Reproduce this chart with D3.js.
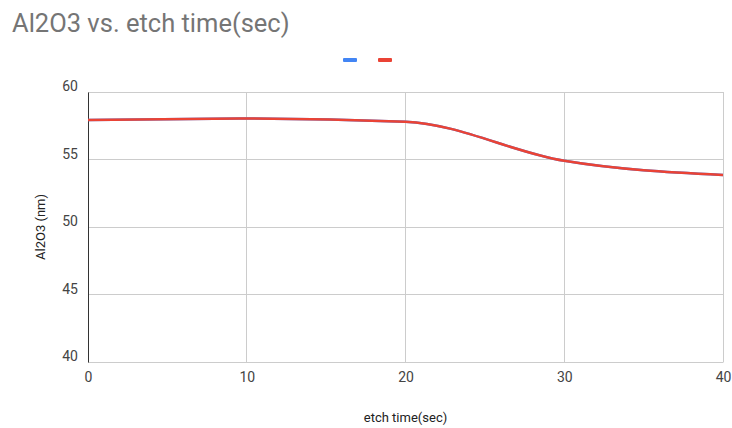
<!DOCTYPE html>
<html><head><meta charset="utf-8">
<script src="https://cdn.jsdelivr.net/npm/d3@7"></script>
<style>body{margin:0;background:#fff;}svg{display:block;font-family:Roboto,Arial,sans-serif;}</style>
</head><body><svg id="c" width="732" height="428"></svg>
<script>
const etchTime = [0, 10, 20, 30, 40];
const seriesBlue = [57.93, 58.04, 57.8, 54.9, 53.85];
const seriesRed = [57.93, 58.04, 57.8, 54.9, 53.85];
const xTicks = [0, 10, 20, 30, 40];
const yTicks = [40, 45, 50, 55, 60];
const title = "Al2O3 vs. etch time(sec)";
const xTitle = "etch time(sec)";
const yTitle = "Al2O3 (nm)";
const colors = ["#4285f4", "#ea4335"];

const svg = d3.select("#c");
const m = {l: 88, r: 9, t: 92, b: 66};
const W = 732, H = 428;
const x = d3.scaleLinear().domain([0, 40]).range([m.l, W - m.r]);
const y = d3.scaleLinear().domain([40, 60]).range([H - m.b, m.t]);

svg.append("text").attr("x", 12).attr("y", 32).attr("font-size", 25.5)
  .attr("font-family", "Roboto,Arial,sans-serif").attr("fill", "#757575").text(title);

// grid
const g = svg.append("g");
g.selectAll(".gy").data(yTicks).join("line")
  .attr("x1", x(0)).attr("x2", x(40)).attr("y1", d => y(d)).attr("y2", d => y(d))
  .attr("stroke", "#cccccc").attr("stroke-width", 1).attr("shape-rendering", "crispEdges");
g.selectAll(".gx").data(xTicks).join("line")
  .attr("y1", y(40)).attr("y2", y(60)).attr("x1", d => x(d)).attr("x2", d => x(d))
  .attr("stroke", "#cccccc").attr("stroke-width", 1).attr("shape-rendering", "crispEdges");

// axes
const xAxis = d3.axisBottom(x).tickValues(xTicks).tickSize(0).tickPadding(10);
const gx = svg.append("g").attr("transform", `translate(0,${y(40)})`).call(xAxis);
gx.select(".domain").attr("stroke", "#cccccc");
gx.selectAll("text").attr("font-size", 14).attr("fill", "#444").attr("font-family", "Roboto,Arial,sans-serif");

const yAxis = d3.axisLeft(y).tickValues(yTicks).tickSize(0).tickPadding(10);
const gy = svg.append("g").attr("transform", `translate(${x(0)},0)`).call(yAxis);
gy.select(".domain").attr("stroke", "#333333");
gy.selectAll("text").attr("font-size", 14).attr("fill", "#444").attr("font-family", "Roboto,Arial,sans-serif").attr("dy", "-0.1em");

// axis titles
svg.append("text").attr("x", (x(0) + x(40)) / 2).attr("y", 422).attr("text-anchor", "middle")
  .attr("font-size", 13).attr("fill", "#222").text(xTitle);
svg.append("text").attr("transform", `translate(45,${(y(40) + y(60)) / 2}) rotate(-90)`)
  .attr("text-anchor", "middle").attr("font-size", 13).attr("fill", "#222").text(yTitle);

// lines
const line = d3.line().x((d, i) => x(etchTime[i])).y(d => y(d)).curve(d3.curveMonotoneX);
[seriesBlue, seriesRed].forEach((s, k) => {
  svg.append("path").datum(s).attr("d", line).attr("fill", "none")
    .attr("stroke", colors[k]).attr("stroke-width", 2.5);
});

// legend
const lg = svg.append("g");
lg.selectAll("rect").data(colors).join("rect")
  .attr("x", (d, i) => 343 + i * 35).attr("y", 58).attr("width", 14).attr("height", 4)
  .attr("rx", 1).attr("fill", d => d);
</script></body></html>
